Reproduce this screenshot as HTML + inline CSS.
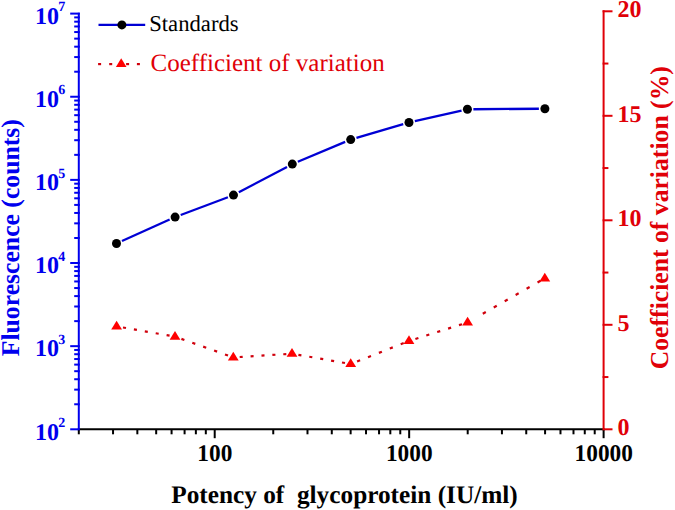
<!DOCTYPE html>
<html><head><meta charset="utf-8"><style>
html,body{margin:0;padding:0;background:#fff;}
body{width:675px;height:510px;overflow:hidden;font-family:"Liberation Serif",serif;}
svg{display:block;}
text{text-rendering:geometricPrecision;}
</style></head><body>
<svg width="675" height="510" viewBox="0 0 675 510">
<rect width="675" height="510" fill="#ffffff"/>
<line x1="77.8" y1="429.2" x2="604.6" y2="429.2" stroke="#000000" stroke-width="2.0"/>
<line x1="78.8" y1="12.7" x2="78.8" y2="430.2" stroke="#0000ee" stroke-width="2.0"/>
<line x1="603.6" y1="10.3" x2="603.6" y2="430.2" stroke="#e00008" stroke-width="2.0"/>
<line x1="78.80" y1="429.2" x2="78.80" y2="434.30" stroke="#000000" stroke-width="2.0"/>
<line x1="113.04" y1="429.2" x2="113.04" y2="434.30" stroke="#000000" stroke-width="2.0"/>
<line x1="137.34" y1="429.2" x2="137.34" y2="434.30" stroke="#000000" stroke-width="2.0"/>
<line x1="156.18" y1="429.2" x2="156.18" y2="434.30" stroke="#000000" stroke-width="2.0"/>
<line x1="171.58" y1="429.2" x2="171.58" y2="434.30" stroke="#000000" stroke-width="2.0"/>
<line x1="184.59" y1="429.2" x2="184.59" y2="434.30" stroke="#000000" stroke-width="2.0"/>
<line x1="195.87" y1="429.2" x2="195.87" y2="434.30" stroke="#000000" stroke-width="2.0"/>
<line x1="205.82" y1="429.2" x2="205.82" y2="434.30" stroke="#000000" stroke-width="2.0"/>
<line x1="214.71" y1="429.2" x2="214.71" y2="438.20" stroke="#000000" stroke-width="2.0"/>
<line x1="273.25" y1="429.2" x2="273.25" y2="434.30" stroke="#000000" stroke-width="2.0"/>
<line x1="307.49" y1="429.2" x2="307.49" y2="434.30" stroke="#000000" stroke-width="2.0"/>
<line x1="331.79" y1="429.2" x2="331.79" y2="434.30" stroke="#000000" stroke-width="2.0"/>
<line x1="350.63" y1="429.2" x2="350.63" y2="434.30" stroke="#000000" stroke-width="2.0"/>
<line x1="366.03" y1="429.2" x2="366.03" y2="434.30" stroke="#000000" stroke-width="2.0"/>
<line x1="379.04" y1="429.2" x2="379.04" y2="434.30" stroke="#000000" stroke-width="2.0"/>
<line x1="390.32" y1="429.2" x2="390.32" y2="434.30" stroke="#000000" stroke-width="2.0"/>
<line x1="400.27" y1="429.2" x2="400.27" y2="434.30" stroke="#000000" stroke-width="2.0"/>
<line x1="409.16" y1="429.2" x2="409.16" y2="438.20" stroke="#000000" stroke-width="2.0"/>
<line x1="467.70" y1="429.2" x2="467.70" y2="434.30" stroke="#000000" stroke-width="2.0"/>
<line x1="501.94" y1="429.2" x2="501.94" y2="434.30" stroke="#000000" stroke-width="2.0"/>
<line x1="526.24" y1="429.2" x2="526.24" y2="434.30" stroke="#000000" stroke-width="2.0"/>
<line x1="545.08" y1="429.2" x2="545.08" y2="434.30" stroke="#000000" stroke-width="2.0"/>
<line x1="560.48" y1="429.2" x2="560.48" y2="434.30" stroke="#000000" stroke-width="2.0"/>
<line x1="573.49" y1="429.2" x2="573.49" y2="434.30" stroke="#000000" stroke-width="2.0"/>
<line x1="584.77" y1="429.2" x2="584.77" y2="434.30" stroke="#000000" stroke-width="2.0"/>
<line x1="594.72" y1="429.2" x2="594.72" y2="434.30" stroke="#000000" stroke-width="2.0"/>
<line x1="603.61" y1="429.2" x2="603.61" y2="438.20" stroke="#000000" stroke-width="2.0"/>
<line x1="70.20" y1="429.30" x2="79.80" y2="429.30" stroke="#0000ee" stroke-width="2.0"/>
<line x1="74.20" y1="404.27" x2="79.80" y2="404.27" stroke="#0000ee" stroke-width="2.0"/>
<line x1="74.20" y1="389.63" x2="79.80" y2="389.63" stroke="#0000ee" stroke-width="2.0"/>
<line x1="74.20" y1="379.24" x2="79.80" y2="379.24" stroke="#0000ee" stroke-width="2.0"/>
<line x1="74.20" y1="371.19" x2="79.80" y2="371.19" stroke="#0000ee" stroke-width="2.0"/>
<line x1="74.20" y1="364.60" x2="79.80" y2="364.60" stroke="#0000ee" stroke-width="2.0"/>
<line x1="74.20" y1="359.04" x2="79.80" y2="359.04" stroke="#0000ee" stroke-width="2.0"/>
<line x1="74.20" y1="354.22" x2="79.80" y2="354.22" stroke="#0000ee" stroke-width="2.0"/>
<line x1="74.20" y1="349.96" x2="79.80" y2="349.96" stroke="#0000ee" stroke-width="2.0"/>
<line x1="70.20" y1="346.16" x2="79.80" y2="346.16" stroke="#0000ee" stroke-width="2.0"/>
<line x1="74.20" y1="321.13" x2="79.80" y2="321.13" stroke="#0000ee" stroke-width="2.0"/>
<line x1="74.20" y1="306.49" x2="79.80" y2="306.49" stroke="#0000ee" stroke-width="2.0"/>
<line x1="74.20" y1="296.10" x2="79.80" y2="296.10" stroke="#0000ee" stroke-width="2.0"/>
<line x1="74.20" y1="288.05" x2="79.80" y2="288.05" stroke="#0000ee" stroke-width="2.0"/>
<line x1="74.20" y1="281.46" x2="79.80" y2="281.46" stroke="#0000ee" stroke-width="2.0"/>
<line x1="74.20" y1="275.90" x2="79.80" y2="275.90" stroke="#0000ee" stroke-width="2.0"/>
<line x1="74.20" y1="271.08" x2="79.80" y2="271.08" stroke="#0000ee" stroke-width="2.0"/>
<line x1="74.20" y1="266.82" x2="79.80" y2="266.82" stroke="#0000ee" stroke-width="2.0"/>
<line x1="70.20" y1="263.02" x2="79.80" y2="263.02" stroke="#0000ee" stroke-width="2.0"/>
<line x1="74.20" y1="237.99" x2="79.80" y2="237.99" stroke="#0000ee" stroke-width="2.0"/>
<line x1="74.20" y1="223.35" x2="79.80" y2="223.35" stroke="#0000ee" stroke-width="2.0"/>
<line x1="74.20" y1="212.96" x2="79.80" y2="212.96" stroke="#0000ee" stroke-width="2.0"/>
<line x1="74.20" y1="204.91" x2="79.80" y2="204.91" stroke="#0000ee" stroke-width="2.0"/>
<line x1="74.20" y1="198.32" x2="79.80" y2="198.32" stroke="#0000ee" stroke-width="2.0"/>
<line x1="74.20" y1="192.76" x2="79.80" y2="192.76" stroke="#0000ee" stroke-width="2.0"/>
<line x1="74.20" y1="187.94" x2="79.80" y2="187.94" stroke="#0000ee" stroke-width="2.0"/>
<line x1="74.20" y1="183.68" x2="79.80" y2="183.68" stroke="#0000ee" stroke-width="2.0"/>
<line x1="70.20" y1="179.88" x2="79.80" y2="179.88" stroke="#0000ee" stroke-width="2.0"/>
<line x1="74.20" y1="154.85" x2="79.80" y2="154.85" stroke="#0000ee" stroke-width="2.0"/>
<line x1="74.20" y1="140.21" x2="79.80" y2="140.21" stroke="#0000ee" stroke-width="2.0"/>
<line x1="74.20" y1="129.82" x2="79.80" y2="129.82" stroke="#0000ee" stroke-width="2.0"/>
<line x1="74.20" y1="121.77" x2="79.80" y2="121.77" stroke="#0000ee" stroke-width="2.0"/>
<line x1="74.20" y1="115.18" x2="79.80" y2="115.18" stroke="#0000ee" stroke-width="2.0"/>
<line x1="74.20" y1="109.62" x2="79.80" y2="109.62" stroke="#0000ee" stroke-width="2.0"/>
<line x1="74.20" y1="104.80" x2="79.80" y2="104.80" stroke="#0000ee" stroke-width="2.0"/>
<line x1="74.20" y1="100.54" x2="79.80" y2="100.54" stroke="#0000ee" stroke-width="2.0"/>
<line x1="70.20" y1="96.74" x2="79.80" y2="96.74" stroke="#0000ee" stroke-width="2.0"/>
<line x1="74.20" y1="71.71" x2="79.80" y2="71.71" stroke="#0000ee" stroke-width="2.0"/>
<line x1="74.20" y1="57.07" x2="79.80" y2="57.07" stroke="#0000ee" stroke-width="2.0"/>
<line x1="74.20" y1="46.68" x2="79.80" y2="46.68" stroke="#0000ee" stroke-width="2.0"/>
<line x1="74.20" y1="38.63" x2="79.80" y2="38.63" stroke="#0000ee" stroke-width="2.0"/>
<line x1="74.20" y1="32.04" x2="79.80" y2="32.04" stroke="#0000ee" stroke-width="2.0"/>
<line x1="74.20" y1="26.48" x2="79.80" y2="26.48" stroke="#0000ee" stroke-width="2.0"/>
<line x1="74.20" y1="21.66" x2="79.80" y2="21.66" stroke="#0000ee" stroke-width="2.0"/>
<line x1="74.20" y1="17.40" x2="79.80" y2="17.40" stroke="#0000ee" stroke-width="2.0"/>
<line x1="70.20" y1="13.60" x2="79.80" y2="13.60" stroke="#0000ee" stroke-width="2.0"/>
<line x1="602.60" y1="429.30" x2="612.50" y2="429.30" stroke="#e00008" stroke-width="2.0"/>
<line x1="602.60" y1="377.05" x2="608.40" y2="377.05" stroke="#e00008" stroke-width="2.0"/>
<line x1="602.60" y1="324.80" x2="612.50" y2="324.80" stroke="#e00008" stroke-width="2.0"/>
<line x1="602.60" y1="272.55" x2="608.40" y2="272.55" stroke="#e00008" stroke-width="2.0"/>
<line x1="602.60" y1="220.30" x2="612.50" y2="220.30" stroke="#e00008" stroke-width="2.0"/>
<line x1="602.60" y1="168.05" x2="608.40" y2="168.05" stroke="#e00008" stroke-width="2.0"/>
<line x1="602.60" y1="115.80" x2="612.50" y2="115.80" stroke="#e00008" stroke-width="2.0"/>
<line x1="602.60" y1="63.55" x2="608.40" y2="63.55" stroke="#e00008" stroke-width="2.0"/>
<line x1="602.60" y1="11.30" x2="612.50" y2="11.30" stroke="#e00008" stroke-width="2.0"/>
<text transform="translate(214.81,461.3) scale(0.972,1)" font-family="Liberation Serif" font-weight="bold" font-size="24" text-anchor="middle" fill="#000000">100</text>
<text transform="translate(409.26,461.3) scale(0.972,1)" font-family="Liberation Serif" font-weight="bold" font-size="24" text-anchor="middle" fill="#000000">1000</text>
<text transform="translate(603.71,461.3) scale(0.972,1)" font-family="Liberation Serif" font-weight="bold" font-size="24" text-anchor="middle" fill="#000000">10000</text>
<text x="58.9" y="439.50" font-family="Liberation Serif" font-weight="bold" font-size="24" text-anchor="end" fill="#0000ee">10</text>
<text x="58.3" y="427.00" font-family="Liberation Serif" font-weight="bold" font-size="14" fill="#0000ee">2</text>
<text x="58.9" y="356.36" font-family="Liberation Serif" font-weight="bold" font-size="24" text-anchor="end" fill="#0000ee">10</text>
<text x="58.3" y="343.86" font-family="Liberation Serif" font-weight="bold" font-size="14" fill="#0000ee">3</text>
<text x="58.9" y="273.22" font-family="Liberation Serif" font-weight="bold" font-size="24" text-anchor="end" fill="#0000ee">10</text>
<text x="58.3" y="260.72" font-family="Liberation Serif" font-weight="bold" font-size="14" fill="#0000ee">4</text>
<text x="58.9" y="190.08" font-family="Liberation Serif" font-weight="bold" font-size="24" text-anchor="end" fill="#0000ee">10</text>
<text x="58.3" y="177.58" font-family="Liberation Serif" font-weight="bold" font-size="14" fill="#0000ee">5</text>
<text x="58.9" y="106.94" font-family="Liberation Serif" font-weight="bold" font-size="24" text-anchor="end" fill="#0000ee">10</text>
<text x="58.3" y="94.44" font-family="Liberation Serif" font-weight="bold" font-size="14" fill="#0000ee">6</text>
<text x="58.9" y="23.80" font-family="Liberation Serif" font-weight="bold" font-size="24" text-anchor="end" fill="#0000ee">10</text>
<text x="58.3" y="11.30" font-family="Liberation Serif" font-weight="bold" font-size="14" fill="#0000ee">7</text>
<text x="617.4" y="435.40" font-family="Liberation Serif" font-weight="bold" font-size="24" fill="#e00008">0</text>
<text x="617.4" y="330.90" font-family="Liberation Serif" font-weight="bold" font-size="24" fill="#e00008">5</text>
<text x="617.4" y="226.40" font-family="Liberation Serif" font-weight="bold" font-size="24" fill="#e00008">10</text>
<text x="617.4" y="121.90" font-family="Liberation Serif" font-weight="bold" font-size="24" fill="#e00008">15</text>
<text x="617.4" y="17.40" font-family="Liberation Serif" font-weight="bold" font-size="24" fill="#e00008">20</text>
<text x="344.5" y="502.7" font-family="Liberation Serif" font-weight="bold" font-size="25.3" text-anchor="middle" fill="#000000" xml:space="preserve">Potency of  glycoprotein (IU/ml)</text>
<text transform="translate(19.3,237.7) rotate(-90)" font-family="Liberation Serif" font-weight="bold" font-size="25.7" text-anchor="middle" fill="#0000ee">Fluorescence (counts)</text>
<text transform="translate(668.3,217.7) rotate(-90)" font-family="Liberation Serif" font-weight="bold" font-size="25.7" text-anchor="middle" fill="#e00008">Coefficient of variation (%)</text>
<line x1="121.97" y1="241.04" x2="169.63" y2="219.56" stroke="#0000d4" stroke-width="2.3"/>
<line x1="180.71" y1="214.98" x2="227.89" y2="197.22" stroke="#0000d4" stroke-width="2.3"/>
<line x1="238.81" y1="192.30" x2="286.99" y2="166.90" stroke="#0000d4" stroke-width="2.3"/>
<line x1="297.83" y1="161.78" x2="345.17" y2="141.92" stroke="#0000d4" stroke-width="2.3"/>
<line x1="356.46" y1="137.91" x2="403.24" y2="124.19" stroke="#0000d4" stroke-width="2.3"/>
<line x1="414.85" y1="121.18" x2="461.55" y2="110.62" stroke="#0000d4" stroke-width="2.3"/>
<line x1="473.40" y1="109.25" x2="538.90" y2="108.75" stroke="#0000d4" stroke-width="2.3"/>
<circle cx="116.5" cy="243.5" r="4.5" fill="#000000"/>
<circle cx="175.1" cy="217.1" r="4.5" fill="#000000"/>
<circle cx="233.5" cy="195.1" r="4.5" fill="#000000"/>
<circle cx="292.3" cy="164.1" r="4.5" fill="#000000"/>
<circle cx="350.7" cy="139.6" r="4.5" fill="#000000"/>
<circle cx="409.0" cy="122.5" r="4.5" fill="#000000"/>
<circle cx="467.4" cy="109.3" r="4.5" fill="#000000"/>
<circle cx="544.9" cy="108.7" r="4.5" fill="#000000"/>
<line x1="123.00" y1="327.52" x2="126.00" y2="328.04" stroke="#d0000c" stroke-width="2.2"/>
<line x1="133.90" y1="329.42" x2="136.90" y2="329.95" stroke="#d0000c" stroke-width="2.2"/>
<line x1="144.80" y1="331.33" x2="147.80" y2="331.85" stroke="#d0000c" stroke-width="2.2"/>
<line x1="155.70" y1="333.23" x2="158.70" y2="333.75" stroke="#d0000c" stroke-width="2.2"/>
<line x1="166.60" y1="335.13" x2="169.60" y2="335.66" stroke="#d0000c" stroke-width="2.2"/>
<line x1="181.40" y1="338.88" x2="184.40" y2="339.95" stroke="#d0000c" stroke-width="2.2"/>
<line x1="192.30" y1="342.77" x2="195.30" y2="343.84" stroke="#d0000c" stroke-width="2.2"/>
<line x1="203.20" y1="346.66" x2="206.20" y2="347.73" stroke="#d0000c" stroke-width="2.2"/>
<line x1="214.10" y1="350.55" x2="217.10" y2="351.62" stroke="#d0000c" stroke-width="2.2"/>
<line x1="225.00" y1="354.44" x2="228.00" y2="355.51" stroke="#d0000c" stroke-width="2.2"/>
<line x1="239.70" y1="357.00" x2="242.70" y2="356.81" stroke="#d0000c" stroke-width="2.2"/>
<line x1="250.60" y1="356.31" x2="253.60" y2="356.12" stroke="#d0000c" stroke-width="2.2"/>
<line x1="261.50" y1="355.62" x2="264.50" y2="355.43" stroke="#d0000c" stroke-width="2.2"/>
<line x1="272.40" y1="354.94" x2="275.40" y2="354.75" stroke="#d0000c" stroke-width="2.2"/>
<line x1="283.30" y1="354.25" x2="286.30" y2="354.06" stroke="#d0000c" stroke-width="2.2"/>
<line x1="298.40" y1="354.82" x2="301.40" y2="355.35" stroke="#d0000c" stroke-width="2.2"/>
<line x1="309.30" y1="356.74" x2="312.30" y2="357.26" stroke="#d0000c" stroke-width="2.2"/>
<line x1="320.20" y1="358.65" x2="323.20" y2="359.17" stroke="#d0000c" stroke-width="2.2"/>
<line x1="331.10" y1="360.56" x2="334.10" y2="361.09" stroke="#d0000c" stroke-width="2.2"/>
<line x1="342.00" y1="362.47" x2="345.00" y2="363.00" stroke="#d0000c" stroke-width="2.2"/>
<line x1="357.10" y1="361.48" x2="360.10" y2="360.29" stroke="#d0000c" stroke-width="2.2"/>
<line x1="368.00" y1="357.17" x2="371.00" y2="355.99" stroke="#d0000c" stroke-width="2.2"/>
<line x1="378.90" y1="352.87" x2="381.90" y2="351.69" stroke="#d0000c" stroke-width="2.2"/>
<line x1="389.80" y1="348.57" x2="392.80" y2="347.39" stroke="#d0000c" stroke-width="2.2"/>
<line x1="400.70" y1="344.27" x2="403.70" y2="343.09" stroke="#d0000c" stroke-width="2.2"/>
<line x1="415.40" y1="338.97" x2="418.40" y2="338.02" stroke="#d0000c" stroke-width="2.2"/>
<line x1="426.30" y1="335.51" x2="429.30" y2="334.56" stroke="#d0000c" stroke-width="2.2"/>
<line x1="437.20" y1="332.05" x2="440.20" y2="331.10" stroke="#d0000c" stroke-width="2.2"/>
<line x1="448.10" y1="328.59" x2="451.10" y2="327.64" stroke="#d0000c" stroke-width="2.2"/>
<line x1="459.00" y1="325.13" x2="462.00" y2="324.18" stroke="#d0000c" stroke-width="2.2"/>
<line x1="482.80" y1="313.74" x2="485.80" y2="312.03" stroke="#d0000c" stroke-width="2.2"/>
<line x1="493.75" y1="307.50" x2="496.75" y2="305.79" stroke="#d0000c" stroke-width="2.2"/>
<line x1="504.70" y1="301.25" x2="507.70" y2="299.55" stroke="#d0000c" stroke-width="2.2"/>
<line x1="515.65" y1="295.01" x2="518.65" y2="293.30" stroke="#d0000c" stroke-width="2.2"/>
<line x1="526.60" y1="288.77" x2="529.60" y2="287.06" stroke="#d0000c" stroke-width="2.2"/>
<line x1="537.55" y1="282.53" x2="540.55" y2="280.82" stroke="#d0000c" stroke-width="2.2"/>
<polygon points="116.60,320.70 111.20,329.50 122.00,329.50" fill="#ff0000"/>
<polygon points="175.00,330.90 169.60,339.70 180.40,339.70" fill="#ff0000"/>
<polygon points="233.30,351.70 227.90,360.50 238.70,360.50" fill="#ff0000"/>
<polygon points="292.00,348.00 286.60,356.80 297.40,356.80" fill="#ff0000"/>
<polygon points="350.70,358.30 345.30,367.10 356.10,367.10" fill="#ff0000"/>
<polygon points="409.00,335.30 403.60,344.10 414.40,344.10" fill="#ff0000"/>
<polygon points="467.60,316.70 462.20,325.50 473.00,325.50" fill="#ff0000"/>
<polygon points="544.80,272.70 539.40,281.50 550.20,281.50" fill="#ff0000"/>
<line x1="98.5" y1="24.9" x2="145.2" y2="24.9" stroke="#0000d4" stroke-width="2.3"/>
<circle cx="121.9" cy="24.9" r="4.5" fill="#000000"/>
<text x="149.2" y="31.2" font-family="Liberation Serif" font-size="22.7" fill="#000000">Standards</text>
<rect x="98.10" y="63" width="3.0" height="2.2" fill="#d0000c"/>
<rect x="109.20" y="63" width="3.0" height="2.2" fill="#d0000c"/>
<rect x="126.10" y="63" width="3.0" height="2.2" fill="#d0000c"/>
<rect x="136.90" y="63" width="3.0" height="2.2" fill="#d0000c"/>
<polygon points="121.20,58.30 115.90,67.10 126.50,67.10" fill="#ff0000"/>
<text x="150.5" y="70.6" font-family="Liberation Serif" font-size="25" fill="#e00008">Coefficient of variation</text>
</svg>
</body></html>
